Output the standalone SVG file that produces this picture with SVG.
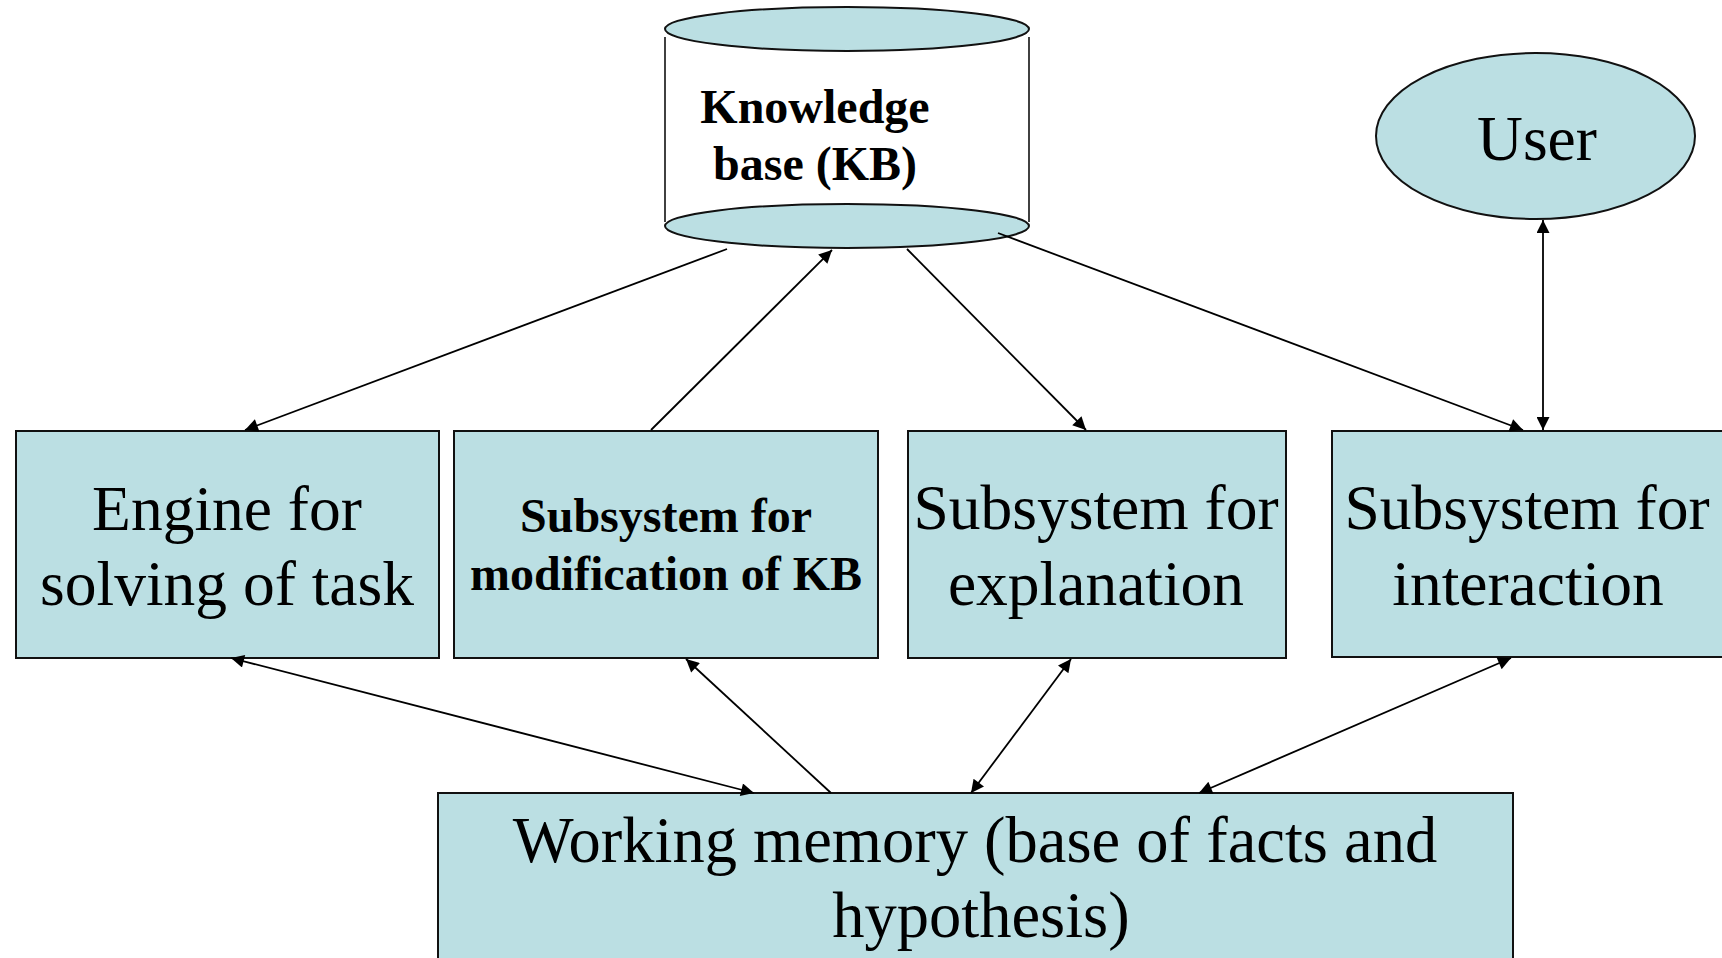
<svg xmlns="http://www.w3.org/2000/svg" width="1722" height="958" viewBox="0 0 1722 958">
  <defs>
    <style>
      .box { fill: #bbdfe3; stroke: #111; stroke-width: 2; }
      .cyl-body { fill: #ffffff; stroke: none; }
      .cyl-side { stroke: #111; stroke-width: 1.6; fill: none; }
      .cyl-cap { fill: #bbdfe3; stroke: #111; stroke-width: 2; }
      .txt { font-family: "Liberation Serif", "Times New Roman", serif; font-size: 63.5px; fill: #000; text-anchor: middle; }
      .big { font-size: 64.5px; }
      .bold { font-family: "Liberation Serif", "Times New Roman", serif; font-size: 48px; font-weight: bold; fill: #000; text-anchor: middle; }
      .link { stroke: #000; stroke-width: 1.8; fill: none; }
    </style>
    <marker id="arrow" viewBox="0 0 10 10" refX="10" refY="5" markerUnits="userSpaceOnUse" markerWidth="18" markerHeight="13" orient="auto-start-reverse">
      <path d="M0,0 L10,5 L0,10 z" fill="#000"/>
    </marker>
  </defs>

  <rect width="1722" height="958" fill="#ffffff"/>

  <!-- Knowledge base cylinder -->
  <g id="kb">
    <rect class="cyl-body" x="665" y="29" width="364" height="197"/>
    <line class="cyl-side" x1="665" y1="37" x2="665" y2="222"/>
    <line class="cyl-side" x1="1029" y1="37" x2="1029" y2="222"/>
    <ellipse class="cyl-cap" cx="847" cy="29" rx="182" ry="22"/>
    <ellipse class="cyl-cap" cx="847" cy="226" rx="182" ry="22"/>
    <text class="bold" x="815" y="123">Knowledge</text>
    <text class="bold" x="815" y="180">base (KB)</text>
  </g>

  <!-- User -->
  <g id="user">
    <ellipse class="box" cx="1535.5" cy="136" rx="159.5" ry="83"/>
    <text class="txt" x="1537" y="160">User</text>
  </g>

  <!-- Middle row -->
  <g id="engine">
    <rect class="box" x="16" y="431" width="423" height="227"/>
    <text class="txt" x="227" y="530">Engine for</text>
    <text class="txt" x="227" y="605">solving of task</text>
  </g>

  <g id="modification">
    <rect class="box" x="454" y="431" width="424" height="227"/>
    <text class="bold" x="666" y="532">Subsystem for</text>
    <text class="bold" x="666" y="590">modification of KB</text>
  </g>

  <g id="explanation">
    <rect class="box" x="908" y="431" width="378" height="227"/>
    <text class="txt" x="1096" y="529">Subsystem for</text>
    <text class="txt" x="1096" y="605">explanation</text>
  </g>

  <g id="interaction">
    <rect class="box" x="1332" y="431" width="396" height="226"/>
    <text class="txt" x="1527" y="529">Subsystem for</text>
    <text class="txt" x="1528" y="605">interaction</text>
  </g>

  <!-- Working memory -->
  <g id="working-memory">
    <rect class="box" x="438" y="793" width="1075" height="180"/>
    <text class="txt big" x="975" y="862">Working memory (base of facts and</text>
    <text class="txt big" x="981" y="937">hypothesis)</text>
  </g>

  <!-- Connectors -->
  <g id="connectors">
    <line class="link" x1="727" y1="249" x2="245" y2="430" marker-end="url(#arrow)"/>
    <line class="link" x1="651" y1="430" x2="832" y2="250" marker-end="url(#arrow)"/>
    <line class="link" x1="907" y1="249" x2="1086" y2="430" marker-end="url(#arrow)"/>
    <line class="link" x1="998" y1="233" x2="1523" y2="430" marker-end="url(#arrow)"/>
    <line class="link" x1="1543" y1="220" x2="1543" y2="430" marker-start="url(#arrow)" marker-end="url(#arrow)"/>
    <line class="link" x1="231" y1="658" x2="754" y2="793" marker-start="url(#arrow)" marker-end="url(#arrow)"/>
    <line class="link" x1="831" y1="793" x2="686" y2="659" marker-end="url(#arrow)"/>
    <line class="link" x1="1071" y1="659" x2="971" y2="793" marker-start="url(#arrow)" marker-end="url(#arrow)"/>
    <line class="link" x1="1511" y1="658" x2="1199" y2="793" marker-start="url(#arrow)" marker-end="url(#arrow)"/>
  </g>
</svg>
